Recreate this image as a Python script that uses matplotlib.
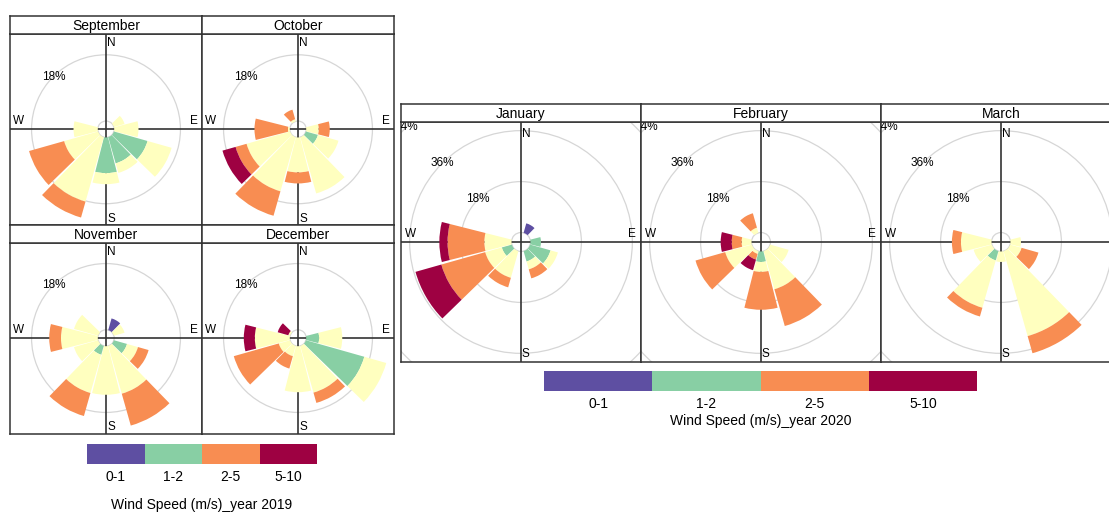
import matplotlib.pyplot as plt
from matplotlib.patches import Wedge, Circle

plt.rcParams['font.family'] = ['Liberation Sans', 'DejaVu Sans']

W, H = 1109, 512

# speed bands drawn from the centre outwards
band_colours = ['#5E4FA2', '#88CFA4', '#FFFFBF', '#F88D52', '#9E0142']
scale_labels = ['0-1', '1-2', '2-5', '5-10']
scale_colours = ['#5E4FA2', '#88CFA4', '#F88D52', '#9E0142']

# frequency (%) per direction sector, one value per speed band
september = {60: [0, 0, 3.0, 0, 0], 90: [0, 0, 6.6, 0, 0], 120: [0, 9.5, 6.8, 0, 0],
             150: [0, 7.4, 2.7, 0, 0], 180: [0, 9.7, 3.0, 0, 0], 210: [0, 0, 18.2, 4.5, 0],
             240: [0, 0, 9.6, 9.9, 0], 270: [0, 0, 6.6, 0, 0]}
october = {90: [0, 0, 3.4, 3.0, 0], 120: [0, 3.4, 5.8, 0, 0], 150: [0, 0, 15.9, 0, 0],
           180: [0, 0, 9.5, 3.0, 0], 210: [0, 0, 15.3, 6.9, 0], 240: [0, 0, 12.3, 3.1, 3.7],
           270: [0, 0, 0.5, 9.1, 0], 330: [0, 0, 0.6, 2.7, 0]}
november = {30: [3.3, 0, 0, 0, 0], 60: [0, 0, 3.0, 0, 0], 120: [0, 3.7, 3.1, 3.0, 0],
            150: [0, 0, 13.5, 9.0, 0], 180: [0, 0, 13.2, 0, 0], 210: [0, 2.5, 10.8, 6.5, 0],
            240: [0, 0, 6.8, 0, 0], 270: [0, 0, 10.0, 3.2, 0], 300: [0, 0, 6.8, 0, 0]}
december = {90: [0, 3.5, 6.3, 0, 0], 120: [0, 16.5, 6.2, 0, 0], 150: [0, 0, 13.2, 2.9, 0],
            180: [0, 0, 12.5, 0, 0], 210: [0, 0, 2.9, 3.5, 0], 240: [0, 0, 3.2, 12.7, 0],
            270: [0, 0, 9.5, 0, 3.0], 300: [0, 0, 0.5, 0, 3.0]}
january = {30: [3.5, 0, 0, 0, 0], 90: [0, 3.7, 0, 0, 0], 120: [0, 7.5, 2.7, 0, 0],
           150: [0, 3.8, 2.9, 3.3, 0], 210: [0, 0, 9.8, 3.5, 0], 240: [0, 3.7, 6.1, 16.1, 9.5],
           270: [0, 0, 9.6, 13.0, 2.9]}
february = {120: [0, 0, 6.8, 0, 0], 150: [0, 0, 14.0, 13.5, 0], 180: [0, 3.7, 3.5, 13.4, 0],
            210: [0, 0, 1.0, 2.1, 3.9], 240: [0, 0, 9.8, 10.9, 0], 270: [0, 0, 3.5, 3.5, 3.9],
            330: [0, 0, 1.9, 5.3, 0]}
march = {90: [0, 0, 3.7, 0, 0], 120: [0, 0, 4.2, 6.2, 0], 150: [0, 0, 31.2, 6.3, 0],
         180: [0, 0, 3.7, 0, 0], 210: [0, 3.4, 17.4, 3.2, 0], 240: [0, 0, 6.7, 0, 0],
         270: [0, 0, 10.8, 3.2, 0]}

sector = 30
gap = 0.8
frame = '#333333'

fig = plt.figure(figsize=(W / 100, H / 100), dpi=100)


def px_rect(x0, y0, w, h):
    return [x0 / W, 1 - (y0 + h) / H, w / W, h / H]


def add_panel(title, data, x0, y0, w, h, strip_h, px_per_pct, offset, rings):
    ax = fig.add_axes(px_rect(x0, y0, w, h))
    hw = w / 2 / px_per_pct
    hh = h / 2 / px_per_pct
    ax.set_xlim(-hw, hw)
    ax.set_ylim(-hh, hh)
    ax.set_xticks([])
    ax.set_yticks([])
    for s in ax.spines.values():
        s.set_color(frame)
        s.set_linewidth(1.1)

    # grid circles and their labels
    for r in [0] + rings:
        ax.add_patch(Circle((0, 0), offset + r, fill=False, ec='#d6d6d6', lw=0.9, zorder=1))
    for r in rings:
        d = (offset + r) * 0.7071
        ax.text(-d, d, f'{r}%', ha='center', va='center', fontsize=8.5, clip_on=True, zorder=5)

    ax.axhline(0, color=frame, lw=1.2, zorder=2)
    ax.axvline(0, color=frame, lw=1.2, zorder=2)

    # stacked wedges, compass bearing -> matplotlib angle
    for wd, parts in data.items():
        inner = offset
        for value, colour in zip(parts, band_colours):
            if value > 0:
                ax.add_patch(Wedge((0, 0), inner + value, 90 - wd - sector / 2 + gap,
                                   90 - wd + sector / 2 - gap, width=value,
                                   fc=colour, ec='none', zorder=3))
            inner += value

    one = 1 / px_per_pct
    ax.text(one, 0.9 * hh, 'N', ha='left', va='center', fontsize=8.5)
    ax.text(one, -0.935 * hh, 'S', ha='left', va='center', fontsize=8.5)
    ax.text(-0.97 * hw, 2 * one, 'W', ha='left', va='bottom', fontsize=8.5)
    ax.text(0.955 * hw, 2 * one, 'E', ha='right', va='bottom', fontsize=8.5)

    strip = fig.add_axes(px_rect(x0, y0 - strip_h, w, strip_h))
    strip.set_xticks([])
    strip.set_yticks([])
    for s in strip.spines.values():
        s.set_color(frame)
        s.set_linewidth(1.1)
    strip.text(0.5, 0.45, title, ha='center', va='center', fontsize=10,
               transform=strip.transAxes)


def add_scale(x0, y0, w, h, title, title_y):
    ax = fig.add_axes(px_rect(x0, y0, w, h))
    ax.bar(range(len(scale_labels)), 1, width=1, color=scale_colours)
    ax.set_xlim(-0.5, len(scale_labels) - 0.5)
    ax.set_ylim(0, 1)
    ax.set_xticks(range(len(scale_labels)), scale_labels, fontsize=10)
    ax.tick_params(length=0, pad=5)
    ax.set_yticks([])
    for s in ax.spines.values():
        s.set_visible(False)
    fig.text((x0 + w / 2) / W, 1 - title_y / H, title, ha='center', va='center', fontsize=10)


# 2019: two by two
k19, off19 = 3.68, 2.23
add_panel('September', september, 10, 33.5, 192, 191.5, 17.5, k19, off19, [18, 36])
add_panel('October', october, 202, 33.5, 192, 191.5, 17.5, k19, off19, [18, 36])
add_panel('November', november, 10, 242.5, 192, 191, 17.5, k19, off19, [18, 36])
add_panel('December', december, 202, 242.5, 192, 191, 17.5, k19, off19, [18, 36])
add_scale(87, 444, 230, 19.5, 'Wind Speed (m/s)_year 2019', 505)

# 2020: one row
k20, off20 = 2.83, 3.35
add_panel('January', january, 401, 122, 240, 240, 18, k20, off20, [18, 36, 54])
add_panel('February', february, 641, 122, 240, 240, 18, k20, off20, [18, 36, 54])
add_panel('March', march, 881, 122, 240, 240, 18, k20, off20, [18, 36, 54])
add_scale(544, 371, 433, 19.5, 'Wind Speed (m/s)_year 2020', 421.5)

fig.savefig('out.png', dpi=100)
